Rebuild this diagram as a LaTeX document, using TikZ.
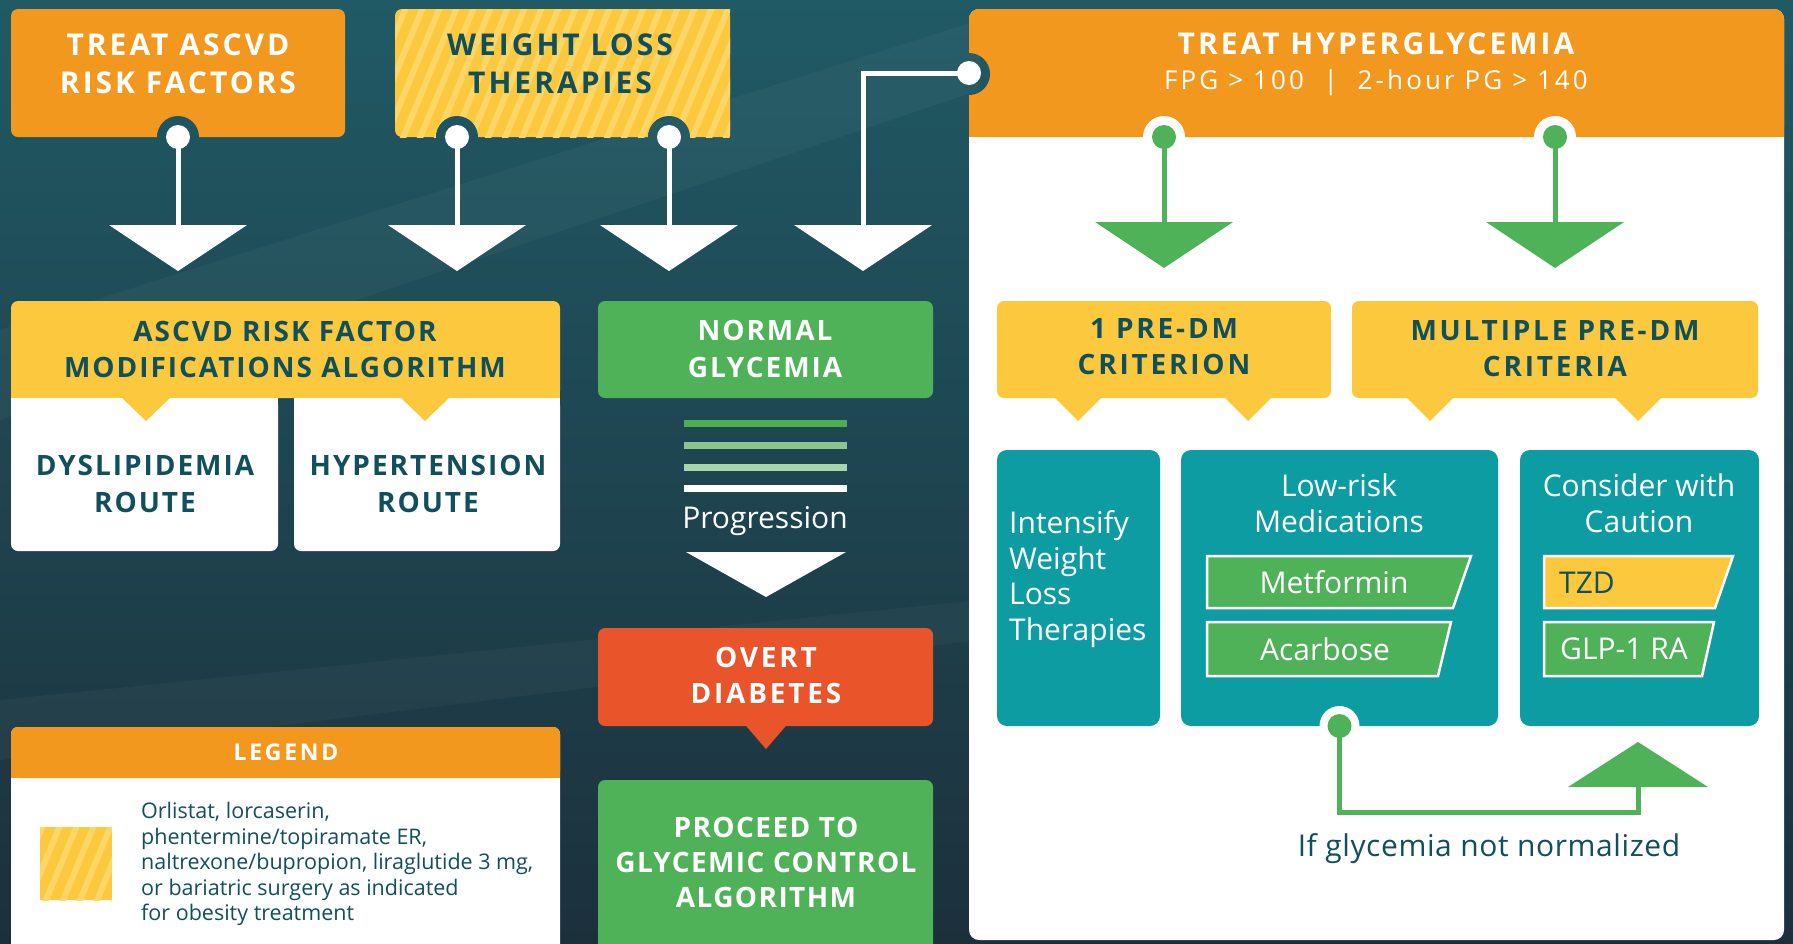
\documentclass[tikz,border=0pt]{standalone}
\usepackage{fontspec}
\setmainfont{Open Sans}
\newfontfamily\hdrfont{Open Sans}[LetterSpace=7]
\newfontfamily\procfont{Open Sans}[LetterSpace=5]
\newfontfamily\topfont{Open Sans}[LetterSpace=10]
\newfontfamily\subfont{Open Sans}[LetterSpace=12]
\newfontfamily\ifont{Open Sans}[LetterSpace=2]
\usetikzlibrary{calc}
\definecolor{bgA}{RGB}{32,90,101}
\definecolor{bgB}{RGB}{28,48,60}
\definecolor{cOrange}{RGB}{243,152,31}
\definecolor{cYellow}{RGB}{252,201,62}
\definecolor{cYellowL}{RGB}{253,214,104}
\definecolor{cGreen}{RGB}{80,178,88}
\definecolor{cTeal}{RGB}{14,156,163}
\definecolor{cRed}{RGB}{233,84,42}
\definecolor{cText}{RGB}{16,80,92}
\definecolor{pgA}{RGB}{77,174,82}
\definecolor{pgB}{RGB}{140,198,142}
\definecolor{pgC}{RGB}{168,213,168}
\newcommand{\PaintBG}{\shade[top color=bgA, bottom color=bgB] (0,0) rectangle (1793,943);
  \fill[white, opacity=0.035] (0,330) -- (980,20) -- (980,90) -- (0,420) -- cycle;
  \fill[white, opacity=0.03] (0,700) -- (980,600) -- (980,640) -- (0,760) -- cycle;}
\newcommand{\BgNotch}[2]{\begin{scope}\clip (#1,#2) circle (21); \PaintBG\end{scope}}
\newcommand{\DownTri}[6]{\coordinate (#1) at (#2,#3);
  \fill[#6] ($(#1)+(-#4,0)$) -- ($(#1)+(#4,0)$) -- ($(#1)+(0,#5)$) -- cycle;}
\tikzset{
  bx/.style={anchor=north west, inner sep=0pt, outer sep=0pt, rounded corners=7pt, draw=none},
  hdr/.style={font=\hdrfont\bfseries\fontsize{28}{37}\selectfont, align=center, inner sep=0pt},
  tophdr/.style={font=\topfont\bfseries\fontsize{30}{38}\selectfont, align=center, inner sep=0pt},
  txt/.style={font=\fontsize{30}{35.5}\selectfont, align=center, inner sep=0pt},
  wline/.style={draw=white, line width=5pt},
  gline/.style={draw=cGreen, line width=5pt},
}
\begin{document}
\begin{tikzpicture}[x=1pt,y=-1pt]
\useasboundingbox (0,0) rectangle (1793,943);
\clip (0,0) rectangle (1793,943);
\PaintBG
% ---------- top left boxes
\node[bx, fill=cOrange, minimum width=334, minimum height=128] (ascvd) at (11,9) {};
\node[bx, fill=cYellow, minimum width=335, minimum height=128] (wl) at (395,9) {};
\begin{scope}
  \clip (395,9) rectangle (730,137);
  \foreach \i in {0,...,28} {\draw[cYellowL, line width=6pt] (330+\i*17,150) -- ++(62,-150);}
\end{scope}
\node[tophdr, text=white] (ascvdT) at (178,64) {TREAT ASCVD\\RISK FACTORS};
\node[tophdr, text=cText] (wlT) at (560,64) {WEIGHT LOSS\\THERAPIES};
% notches and dots
\BgNotch{178}{137}\BgNotch{457}{137}\BgNotch{669}{137}
\coordinate (d1) at (ascvd.south);
\coordinate (d2) at (457,137);
\coordinate (d3) at (669,137);
% ---------- right panel
\node[bx, fill=white, rounded corners=10pt, minimum width=815, minimum height=931] (panel) at (969,9) {};
\node[bx, fill=cOrange, rounded corners=10pt, minimum width=815, minimum height=128] (hyp) at (969,9) {};
\fill[cOrange] (969,115) rectangle (1784,137);
\BgNotch{969}{74}
\node[tophdr, text=white] (hypT) at (1376,44) {TREAT HYPERGLYCEMIA};
\node[inner sep=0pt, text=white, font=\subfont\fontsize{26}{30}\selectfont] (hypS) at (1376,83) {FPG > 100~~|~~2-hour PG > 140};
% arrows row (white)
\DownTri{t1}{178}{225}{69}{46}{white}
\DownTri{t2}{457}{225}{69}{46}{white}
\DownTri{t3}{669}{225}{69}{46}{white}
\DownTri{t4}{863}{225}{69}{46}{white}
\draw[wline] (d1) -- (t1);
\draw[wline] (d2) -- (t2);
\draw[wline] (d3) -- (t3);
\draw[wline] (hyp.west) -| (t4);
\foreach \p in {d1,d2,d3} {\fill[white] (\p) circle (12);}
\fill[white] (hyp.west) circle (12);
% ---------- ASCVD risk factor algorithm
\node[bx, fill=cYellow, minimum width=549, minimum height=97] (alg) at (11,301) {};
\fill[cYellow] (11,385) rectangle (560,398);
\node[hdr, text=cText, font=\hdrfont\bfseries\fontsize{28}{36}\selectfont] (algT) at (285,349) {ASCVD RISK FACTOR\\MODIFICATIONS ALGORITHM};
\node[bx, fill=white, minimum width=267, minimum height=153] (dys) at (11,398) {};
\node[bx, fill=white, minimum width=266, minimum height=153] (hyt) at (294,398) {};
\fill[white] (11,398) rectangle (278,410);
\fill[white] (294,398) rectangle (560,410);
\fill[cYellow] (122,398) -- (170,398) -- (146,421) -- cycle;
\fill[cYellow] (401,398) -- (449,398) -- (425,421) -- cycle;
\node[hdr, text=cText] (dysT) at (145,484) {DYSLIPIDEMIA\\ROUTE};
\node[hdr, text=cText] (hytT) at (428,484) {HYPERTENSION\\ROUTE};
% ---------- middle column
\node[bx, fill=cGreen, minimum width=335, minimum height=97] (norm) at (598,301) {};
\node[hdr, text=white] (normT) at (765,349) {NORMAL\\GLYCEMIA};
\draw[pgA, line width=7pt] (684,423) -- (847,423);
\draw[pgB, line width=7pt] (684,445) -- (847,445);
\draw[pgC, line width=7pt] (684,467) -- (847,467);
\draw[white, line width=7pt] (684,488) -- (847,488);
\node[txt, text=white] (prog) at (765,521) {Progression};
\DownTri{t5}{766}{552}{80}{45}{white}
\node[bx, fill=cRed, minimum width=335, minimum height=98] (overt) at (598,628) {};
\fill[cRed] (741,720) -- (791,720) -- (766,749) -- cycle;
\node[hdr, text=white, font=\topfont\bfseries\fontsize{28}{36}\selectfont] (overtT) at (766,675) {OVERT\\DIABETES};
\node[bx, fill=cGreen, minimum width=335, minimum height=180] (proc) at (598,780) {};
\node[hdr, text=white, font=\procfont\bfseries\fontsize{28}{35}\selectfont] (procT) at (766,862) {PROCEED TO\\GLYCEMIC CONTROL\\ALGORITHM};
% ---------- legend
\node[bx, fill=white, minimum width=549, minimum height=230] (leg) at (11,727) {};
\node[bx, fill=cOrange, minimum width=549, minimum height=51] (legH) at (11,727) {};
\fill[cOrange] (11,765) rectangle (560,778);
\node[inner sep=0pt, text=white, font=\subfont\bfseries\fontsize{23}{28}\selectfont] (legT) at (286,752) {LEGEND};
\begin{scope}
  \clip (40,827) rectangle (112,900);
  \fill[cYellow] (40,827) rectangle (112,900);
  \foreach \i in {0,...,7} {\draw[cYellowL, line width=6pt] (10+\i*17,905) -- ++(34,-82);}
\end{scope}
\node[anchor=west, align=left, inner sep=0pt, text=cText, font=\fontsize{21.5}{25.4}\selectfont] (legX) at (141,864)
  {Orlistat, lorcaserin,\\phentermine/topiramate ER,\\naltrexone/bupropion, liraglutide 3 mg,\\or bariatric surgery as indicated\\for obesity treatment};
% ---------- right panel content
\fill[white] (1164,137) circle (21);
\fill[white] (1555,137) circle (21);
\DownTri{g1}{1164}{222}{69}{46}{cGreen}
\DownTri{g2}{1555}{222}{69}{46}{cGreen}
\coordinate (gd1) at (1164,137);
\coordinate (gd2) at (1555,137);
\draw[gline] (gd1) -- (g1);
\draw[gline] (gd2) -- (g2);
\fill[cGreen] (gd1) circle (12);
\fill[cGreen] (gd2) circle (12);
\node[bx, fill=cYellow, minimum width=334, minimum height=97] (one) at (997,301) {};
\fill[cYellow] (1054,397) -- (1102,397) -- (1078,421) -- cycle;
\fill[cYellow] (1224,397) -- (1272,397) -- (1248,421) -- cycle;
\node[hdr, text=cText, font=\topfont\bfseries\fontsize{28}{36}\selectfont] (oneT) at (1164,347) {1 PRE-DM\\CRITERION};
\node[bx, fill=cYellow, minimum width=406, minimum height=97] (mult) at (1352,301) {};
\fill[cYellow] (1406,397) -- (1454,397) -- (1430,421) -- cycle;
\fill[cYellow] (1614,397) -- (1662,397) -- (1638,421) -- cycle;
\node[hdr, text=cText, font=\topfont\bfseries\fontsize{28}{36}\selectfont] (multT) at (1555,349) {MULTIPLE PRE-DM\\CRITERIA};
% teal boxes
\node[bx, fill=cTeal, rounded corners=10pt, minimum width=163, minimum height=276] (intens) at (997,450) {};
\node[bx, fill=cTeal, rounded corners=10pt, minimum width=317, minimum height=276] (lowrisk) at (1181,450) {};
\node[bx, fill=cTeal, rounded corners=10pt, minimum width=239, minimum height=276] (cons) at (1520,450) {};
\node[anchor=west, align=left, inner sep=0pt, text=white, font=\fontsize{30}{35.5}\selectfont] (intensT) at (1009,579) {Intensify\\Weight\\Loss\\Therapies};
\node[txt, text=white] (lowT) at (1339,503) {Low-risk\\Medications};
\node[txt, text=white] (consT) at (1639,503) {Consider with\\Caution};
\draw[white, line width=2.5pt, fill=cGreen] (1207,556) -- (1471,556) -- (1453,608) -- (1207,608) -- cycle;
\draw[white, line width=2.5pt, fill=cGreen] (1207,622) -- (1451,622) -- (1438,676) -- (1207,676) -- cycle;
\draw[white, line width=2.5pt, fill=cYellow] (1544,556) -- (1733,556) -- (1715,608) -- (1544,608) -- cycle;
\draw[white, line width=2.5pt, fill=cGreen] (1544,622) -- (1714,622) -- (1702,676) -- (1544,676) -- cycle;
\node[txt, text=white] (metT) at (1334,582) {Metformin};
\node[txt, text=white] (acaT) at (1325,649) {Acarbose};
\node[txt, text=cText, anchor=west] (tzdT) at (1559,583) {TZD};
\node[txt, text=white] (glpT) at (1624,649) {GLP-1 RA};
% feedback loop
\fill[white] (lowrisk.south) circle (20);
\coordinate (fbc) at (1638,812);
\coordinate (fbt) at (1638,787);
\fill[cGreen] (1568,787) -- (1708,787) -- (1638,742) -- cycle;
\draw[gline] (lowrisk.south) |- (fbc) -- (fbt);
\fill[cGreen] (lowrisk.south) circle (12);
\node[inner sep=0pt, text=cText, font=\ifont\fontsize{30}{35}\selectfont] (ifT) at (1489,849) {If glycemia not normalized};
\end{tikzpicture}
\end{document}
